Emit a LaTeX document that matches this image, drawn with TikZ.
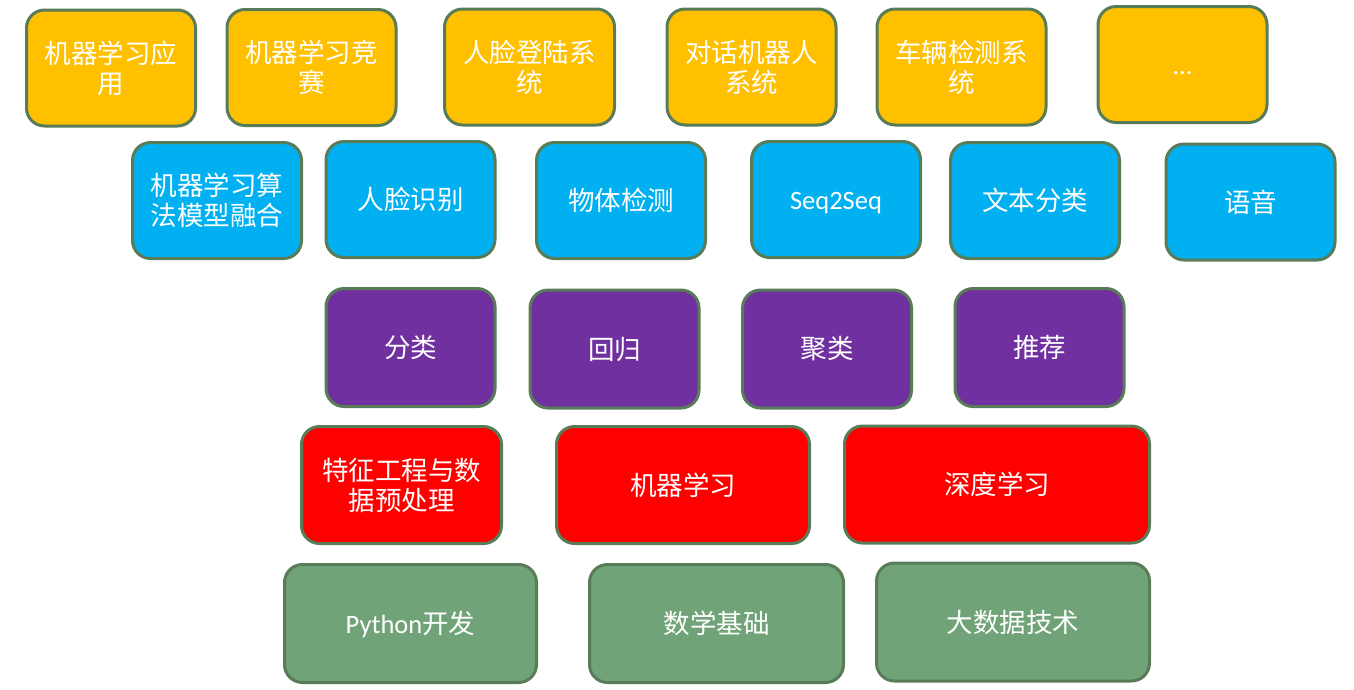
\documentclass[tikz,border=0pt]{standalone}
\usepackage{fontspec}
\setmainfont{Carlito}
\newfontfamily\cjk{Noto Sans CJK SC}
\definecolor{cOrange}{RGB}{255,192,0}
\definecolor{cBlue}{RGB}{0,176,240}
\definecolor{cPurple}{RGB}{112,48,160}
\definecolor{cRed}{RGB}{255,0,0}
\definecolor{cGreen}{RGB}{113,163,120}
\definecolor{cEdge}{RGB}{88,124,88}
\tikzset{
  tile/.style={draw=cEdge, line width=3pt, rounded corners=18pt, text=white,
    align=center, inner sep=0pt, font=\fontsize{26.5}{30}\selectfont\cjk},
  otile/.style={tile, fill=cOrange, minimum width=169pt, minimum height=116pt},
  btile/.style={tile, fill=cBlue, minimum width=169pt, minimum height=116pt},
  ptile/.style={tile, fill=cPurple, minimum width=169pt, minimum height=118pt},
  rtile/.style={tile, fill=cRed, minimum height=117pt},
  gtile/.style={tile, fill=cGreen, minimum height=118pt},
  lat/.style={font=\fontsize{26.5}{30}\selectfont\rmfamily, text height=20pt, text depth=0pt}
}
\begin{document}
\begin{tikzpicture}[x=1pt,y=-1pt]
\useasboundingbox (0,0) rectangle (1354,689);
% orange row
\node[otile] (o1) at (111,68) {机器学习应\\用};
\node[otile] (o2) at (311.5,67.5) {机器学习竞\\赛};
\node[otile, minimum width=170pt] (o3) at (529.5,67) {人脸登陆系\\统};
\node[otile] (o4) at (751.5,67) {对话机器人\\系统};
\node[otile] (o5) at (961.5,67) {车辆检测系\\统};
\node[otile, lat] (o6) at (1182.5,64.5) {…};
% blue row
\node[btile] (b1) at (217,200.5) {机器学习算\\法模型融合};
\node[btile] (b2) at (410.5,199.5) {人脸识别};
\node[btile] (b3) at (621,200.5) {物体检测};
\node[btile, lat] (b4) at (836,199.5) {Seq2Seq};
\node[btile] (b5) at (1035,200.5) {文本分类};
\node[btile] (b6) at (1250.5,202) {语音};
% purple row
\node[ptile] (p1) at (410.5,347.5) {分类};
\node[ptile] (p2) at (614.5,349) {回归};
\node[ptile] (p3) at (827,349) {聚类};
\node[ptile] (p4) at (1039.5,347.5) {推荐};
% red row
\node[rtile, minimum width=200pt] (r1) at (401.5,485) {特征工程与数\\据预处理};
\node[rtile, minimum width=253pt] (r2) at (683,485) {机器学习};
\node[rtile, minimum width=305pt] (r3) at (997,484.5) {深度学习};
% green row
\node[gtile, minimum width=252pt, text height=20pt, text depth=0pt] (g1) at (410.5,623.5) {{\rmfamily\fontsize{26.5}{30}\selectfont Python}开发};
\node[gtile, minimum width=254pt] (g2) at (716.5,623.5) {数学基础};
\node[gtile, minimum width=273pt] (g3) at (1013,622) {大数据技术};
\end{tikzpicture}
\end{document}
